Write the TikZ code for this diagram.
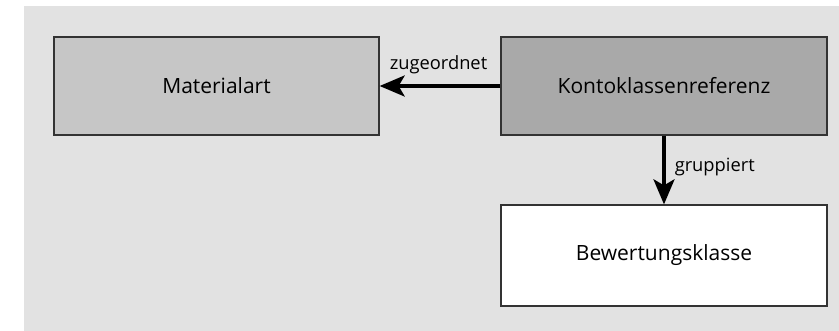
\documentclass[tikz,border=0pt]{standalone}
\usepackage{fontspec}
\setmainfont{Open Sans}
\usetikzlibrary{arrows.meta}
\definecolor{bgc}{HTML}{E2E2E2}
\definecolor{matc}{HTML}{C6C6C6}
\definecolor{kontoc}{HTML}{A9A9A9}
\definecolor{edgec}{HTML}{333333}
\begin{document}
\begin{tikzpicture}[x=1pt,y=-1pt,
  box/.style={draw=edgec, line width=1.3pt, inner sep=0pt, font=\fontsize{21}{25}\selectfont},
  conn/.style={line width=3.5pt, -{Stealth[length=25pt,width=21pt,inset=6pt]}},
  lbl/.style={font=\fontsize{18.3}{22}\selectfont, inner sep=0pt}]
\useasboundingbox (0,0) rectangle (839,331);
\fill[bgc] (24,6) rectangle (839,331);
\node[box, fill=matc, minimum width=325pt, minimum height=98pt] (mat) at (216.5,86) {Materialart};
\node[box, fill=kontoc, minimum width=326pt, minimum height=98pt] (konto) at (664,86) {Kontoklassenreferenz};
\node[box, fill=white, minimum width=326pt, minimum height=101pt] (bew) at (664,255.5) {Bewertungsklasse};
\draw[conn] (konto.west) -- node[lbl, anchor=base, xshift=-1.5pt, yshift=16pt] (l1) {zugeordnet} (mat.east);
\draw[conn] (konto.south) -- node[lbl, anchor=base west, xshift=9pt, yshift=-1.7pt] (l2) {gruppiert} (bew.north);
\end{tikzpicture}
\end{document}
